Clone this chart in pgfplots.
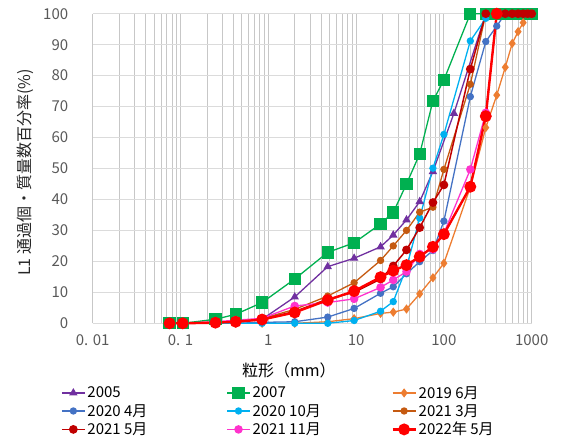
\documentclass[border=0pt]{standalone}
\usepackage{fontspec}
\setmainfont{Noto Sans CJK JP}
\usepackage{pgfplots}
\pgfplotsset{compat=1.18}
\usepackage{pgfplotstable}
\definecolor{cPurple}{HTML}{7030A0}
\definecolor{cGreen}{HTML}{00B050}
\definecolor{cOrange}{HTML}{ED7D31}
\definecolor{cBlue}{HTML}{4472C4}
\definecolor{cLBlue}{HTML}{00B0F0}
\definecolor{cBrown}{HTML}{C55A11}
\definecolor{cDRed}{HTML}{C00000}
\definecolor{cPink}{HTML}{FF33CC}
\definecolor{cRed}{HTML}{FF0000}

\pgfplotstableread{
x y
0.075 0
0.106 0
0.25 0.2
0.425 0.4
0.85 1.3
2 8.5
4.75 18.3
9.5 21.0
19 24.7
26.5 28.5
37.5 33.4
53 39.3
75 49.0
130 67.8
300 100
}\tPurple
\pgfplotstableread{
x y
0.075 0
0.106 0
0.25 1.3
0.425 2.9
0.85 6.7
2 14.3
4.75 22.9
9.5 26.0
19 32.1
26.5 35.8
37.5 45.0
53 54.7
75 71.8
100 78.6
200 100
300 100
400 100
500 100
600 100
700 100
800 100
900 100
1000 100
}\tGreen
\pgfplotstableread{
x y
0.075 0
0.106 0
0.25 0
0.425 0
0.85 0
2 0
4.75 0.5
9.5 1.5
19 3.2
26.5 3.6
37.5 4.6
53 9.5
75 14.7
100 19.4
200 44
300 63.2
400 73.7
500 82.7
600 90.4
700 94.2
800 97.1
900 100
1000 100
}\tOrange
\pgfplotstableread{
x y
0.075 0
0.106 0
0.25 0
0.425 0
0.85 0.3
2 0.5
4.75 2.0
9.5 4.8
19 9.7
26.5 11.8
37.5 16.0
53 19.9
75 23.5
100 33.0
200 73.2
300 91.0
400 96.0
500 100
}\tBlue
\pgfplotstableread{
x y
0.075 0
0.106 0
0.25 0
0.425 0
0.85 0
2 0
4.75 0
9.5 0.9
19 3.9
26.5 7.0
37.5 18
53 34
75 50.1
100 61.0
200 91.2
300 98.5
400 100
}\tLBlue
\pgfplotstableread{
x y
0.075 0
0.106 0
0.25 0.3
0.425 0.6
0.85 1.5
2 4.5
4.75 8.8
9.5 13.1
19 20.3
26.5 25.0
37.5 30.0
53 35.9
75 37.5
100 49.7
200 77.2
300 100
}\tBrown
\pgfplotstableread{
x y
0.075 0
0.106 0
0.25 0.3
0.425 0.6
0.85 1.3
2 3.8
4.75 7.8
9.5 10.0
19 14.3
26.5 18.5
37.5 23.7
53 30.9
75 39.0
100 44.7
200 82.1
300 100
400 100
500 100
600 100
700 100
800 100
900 100
1000 100
}\tDRed
\pgfplotstableread{
x y
0.075 0
0.106 0
0.25 0.5
0.425 1.0
0.85 1.6
2 5.6
4.75 6.7
9.5 7.9
19 11.6
26.5 14.0
37.5 16.7
53 22.4
75 23.9
100 29.1
200 49.7
300 68
400 100
}\tPink
\pgfplotstableread{
x y
0.075 0
0.106 0
0.25 0.2
0.425 0.5
0.85 1.2
2 3.5
4.75 7.5
9.5 10.4
19 14.9
26.5 17.0
37.5 18.8
53 21.5
75 24.7
100 28.8
200 44.1
300 66.9
400 100
}\tRed

\begin{document}
\begin{tikzpicture}
\useasboundingbox (-92.7pt,-119.7pt) rectangle (473.3pt,323.3pt);
\begin{axis}[
  at={(0,0)}, anchor=south west,
  scale only axis, width=439pt, height=309.6pt,
  xmode=log, xmin=0.01, xmax=1000, ymin=0, ymax=100,
  xtick={0.01,0.1,1,10,100,1000},
  xticklabels={0. 01,0. 1,1,10,100,1000},
  minor xtick={0.02,0.03,0.04,0.05,0.06,0.07,0.08,0.09,0.2,0.3,0.4,0.5,0.6,0.7,0.8,0.9,2,3,4,5,6,7,8,9,20,30,40,50,60,70,80,90,200,300,400,500,600,700,800,900},
  ytick={0,10,...,100},
  xmajorgrids, xminorgrids, ymajorgrids,
  major x grid style={color=black!22, line width=0.8pt},
  minor x grid style={color=black!22, line width=0.8pt},
  major y grid style={color=black!14, line width=0.8pt},
  axis line style={draw=none},
  major tick length=0pt, minor tick length=0pt,
  tick style={draw=none},
  tick label style={font=\fontsize{15}{18}\selectfont, text=black!65},
  /pgf/number format/assume math mode=true,
  yticklabel style={xshift=-21pt},
  xticklabel style={yshift=-8pt},
  xlabel={粒形（mm）},
  xlabel style={at={(axis description cs:0.447,0)}, anchor=center, yshift=-46.7pt, font=\fontsize{16}{19}\selectfont},
  ylabel={L1 通過個・質量数百分率(\%)},
  ylabel style={at={(axis description cs:-0.154,0.487)}, anchor=center, font=\fontsize{16}{19}\selectfont, text=black!85},
  clip=false,
  legend columns=3,
  legend cell align=left,
  legend style={at={(axis description cs:-0.079,-0.19)}, anchor=north west, draw=none, fill=none,
    font=\fontsize{15}{18}\selectfont, nodes={inner sep=2pt}, row sep=0.7pt},
  legend image code/.code={\draw[mark repeat=2,mark phase=2,#1] plot coordinates {(0cm,0cm) (0.4cm,0cm) (0.8cm,0cm)};},
]
\addplot[cPurple, line width=1.3pt, mark=triangle*, mark size=3.6pt, mark options={fill=cPurple}] table {\tPurple};
\addlegendentry{\makebox[137pt][l]{2005}}
\addplot[cGreen, line width=1.3pt, mark=square*, mark size=5.5pt, mark options={fill=cGreen}] table {\tGreen};
\addlegendentry{\makebox[137pt][l]{2007}}
\addplot[cOrange, line width=1.3pt, mark=diamond*, mark size=3.6pt, mark options={fill=cOrange}] table {\tOrange};
\addlegendentry{\makebox[137pt][l]{2019 6月}}
\addplot[cBlue, line width=1.3pt, mark=*, mark size=3pt, mark options={fill=cBlue}] table {\tBlue};
\addlegendentry{\makebox[137pt][l]{2020 4月}}
\addplot[cLBlue, line width=1.3pt, mark=*, mark size=3pt, mark options={fill=cLBlue}] table {\tLBlue};
\addlegendentry{\makebox[137pt][l]{2020 10月}}
\addplot[cBrown, line width=1.3pt, mark=*, mark size=3pt, mark options={fill=cBrown}] table {\tBrown};
\addlegendentry{\makebox[137pt][l]{2021 3月}}
\addplot[cDRed, line width=1.5pt, mark=*, mark size=3.6pt, mark options={fill=cDRed}] table {\tDRed};
\addlegendentry{\makebox[137pt][l]{2021 5月}}
\addplot[cPink, line width=1.3pt, mark=*, mark size=3.6pt, mark options={fill=cPink}] table {\tPink};
\addlegendentry{\makebox[137pt][l]{2021 11月}}
\addplot[cRed, line width=2.4pt, mark=*, mark size=4.7pt, mark options={fill=cRed}] table {\tRed};
\addlegendentry{\makebox[137pt][l]{2022年 5月}}
\end{axis}
\end{tikzpicture}
\end{document}
